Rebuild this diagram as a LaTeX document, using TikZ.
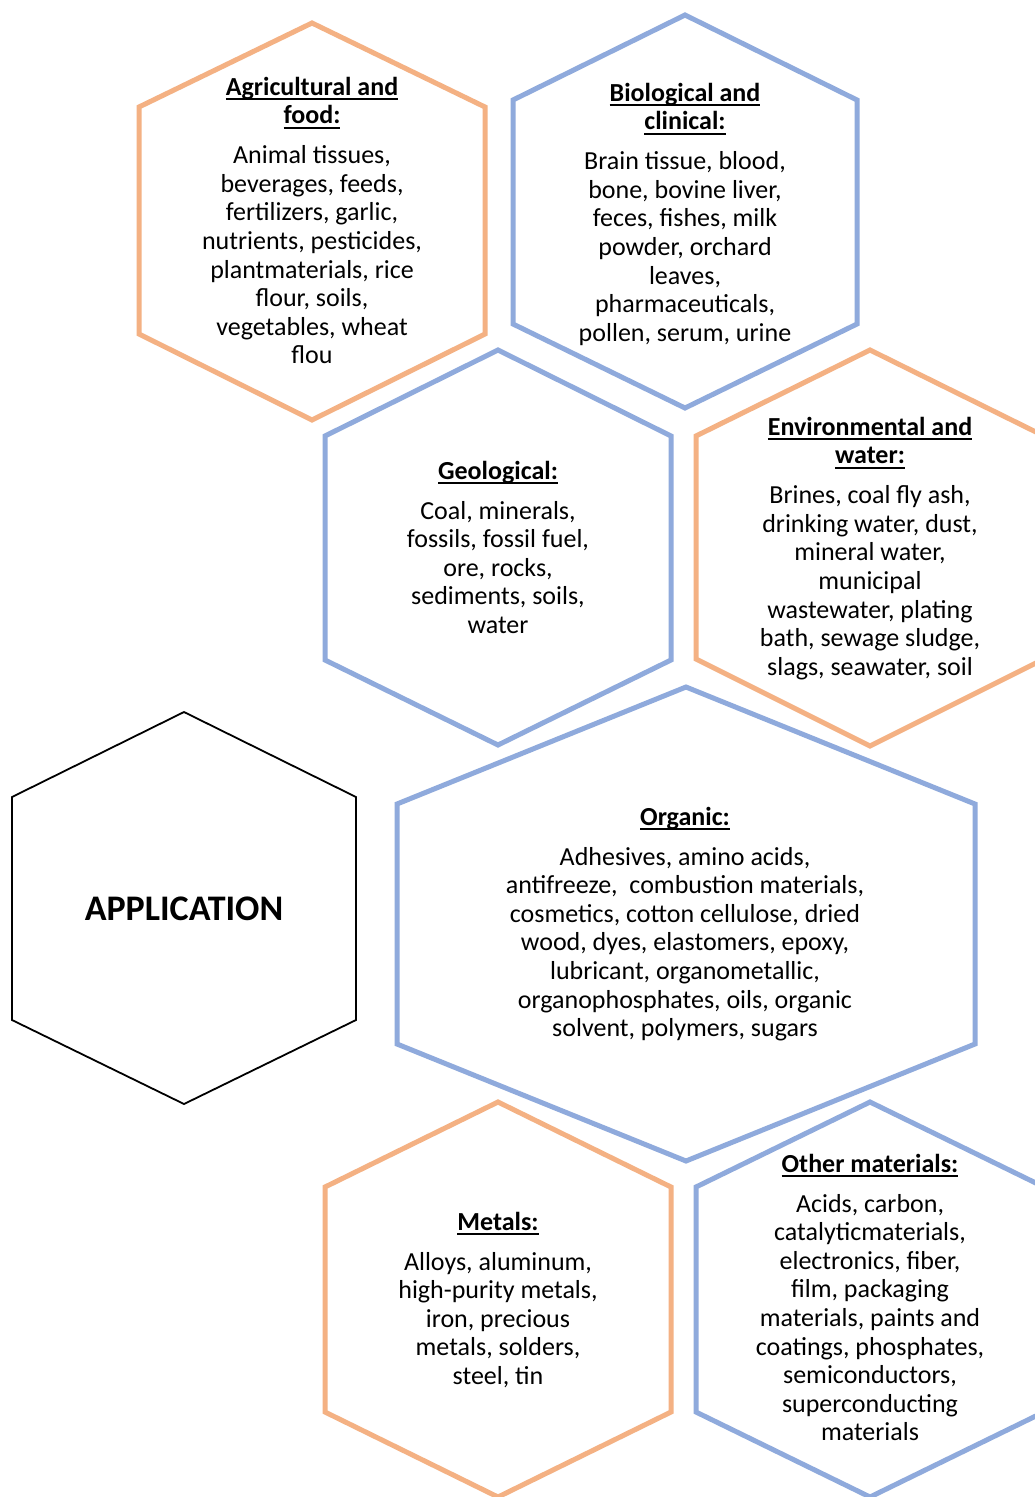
\documentclass[tikz,border=0pt]{standalone}
\usepackage{fontspec}
\setmainfont{Carlito}
\definecolor{hexorange}{HTML}{F4B183}
\definecolor{hexblue}{HTML}{8FAADC}
\newcommand\hdr[1]{\setbox0=\hbox{\bfseries #1}\rlap{\rule[-5pt]{\wd0}{1.6pt}}\box0}
\newcommand\hexshape[7]{%
  \draw[#7] (#1,#2) -- (#1+#6,#3) -- (#1+#6,#4) -- (#1,#5) -- (#1-#6,#4) -- (#1-#6,#3) -- cycle;}
\tikzset{
  orangehex/.style={draw=hexorange, line width=5pt, line join=miter},
  bluehex/.style={draw=hexblue, line width=5pt, line join=miter},
  blackhex/.style={draw=black, line width=1.8pt, line join=miter},
  bodytext/.style={font=\fontsize{26}{28.6}\selectfont, inner sep=0pt, anchor=base, text=black},
  apptext/.style={font=\fontsize{36}{40}\selectfont\bfseries, inner sep=0pt, anchor=base, text=black},
}
\begin{document}
\begin{tikzpicture}[x=1pt,y=-1pt]
\useasboundingbox (0,0) rectangle (1035,1497);
\fill[white] (0,0) rectangle (1035,1497);
\clip (0,0) rectangle (1035,1497);

% hexagons: cx, top, shoulder1, shoulder2, bottom, halfwidth, style
\hexshape{312}{23}{107}{334}{420}{173}{orangehex}
\hexshape{685}{15}{100}{324}{408}{172}{bluehex}
\hexshape{498}{350}{436}{660}{745}{173}{bluehex}
\hexshape{870}{350}{436}{659}{746}{174}{orangehex}
\hexshape{184}{712}{797}{1020}{1104}{172}{blackhex}
\hexshape{686}{687}{804}{1044}{1161}{289}{bluehex}
\hexshape{498}{1102}{1187}{1412}{1497}{173}{orangehex}
\hexshape{870}{1102}{1187}{1412}{1497}{174}{bluehex}

\node[bodytext] (agri) at (312,95) {\begin{tabular}[t]{@{}c@{}}
\hdr{Agricultural and}\\ \hdr{food:}\\[11.4pt]
Animal tissues,\\ beverages, feeds,\\ fertilizers, garlic,\\ nutrients, pesticides,\\
plantmaterials, rice\\ flour, soils,\\ vegetables, wheat\\ flou\end{tabular}};

\node[bodytext] (bio) at (685,101) {\begin{tabular}[t]{@{}c@{}}
\hdr{Biological and}\\ \hdr{clinical:}\\[11.4pt]
Brain tissue, blood,\\ bone, bovine liver,\\ feces, fishes, milk\\ powder, orchard\\
leaves,\\ pharmaceuticals,\\ pollen, serum, urine\end{tabular}};

\node[bodytext] (geo) at (498,479) {\begin{tabular}[t]{@{}c@{}}
\hdr{Geological:}\\[11.4pt]
Coal, minerals,\\ fossils, fossil fuel,\\ ore, rocks,\\ sediments, soils,\\ water\end{tabular}};

\node[bodytext] (env) at (870,435) {\begin{tabular}[t]{@{}c@{}}
\hdr{Environmental and}\\ \hdr{water:}\\[11.4pt]
Brines, coal fly ash,\\ drinking water, dust,\\ mineral water,\\ municipal\\
wastewater, plating\\ bath, sewage sludge,\\ slags, seawater, soil\end{tabular}};

\node[apptext] (app) at (184,920) {APPLICATION};

\node[bodytext] (org) at (685,825) {\begin{tabular}[t]{@{}c@{}}
\hdr{Organic:}\\[11.4pt]
Adhesives, amino acids,\\ antifreeze,\ \ combustion materials,\\ cosmetics, cotton cellulose, dried\\
wood, dyes, elastomers, epoxy,\\ lubricant, organometallic,\\ organophosphates, oils, organic\\
solvent, polymers, sugars\end{tabular}};

\node[bodytext] (met) at (498,1230) {\begin{tabular}[t]{@{}c@{}}
\hdr{Metals:}\\[11.4pt]
Alloys, aluminum,\\ high-purity metals,\\ iron, precious\\ metals, solders,\\ steel, tin\end{tabular}};

\node[bodytext] (oth) at (870,1172) {\begin{tabular}[t]{@{}c@{}}
\hdr{Other materials:}\\[11.4pt]
Acids, carbon,\\ catalyticmaterials,\\ electronics, fiber,\\ film, packaging\\
materials, paints and\\ coatings, phosphates,\\ semiconductors,\\ superconducting\\ materials\end{tabular}};
\end{tikzpicture}
\end{document}
